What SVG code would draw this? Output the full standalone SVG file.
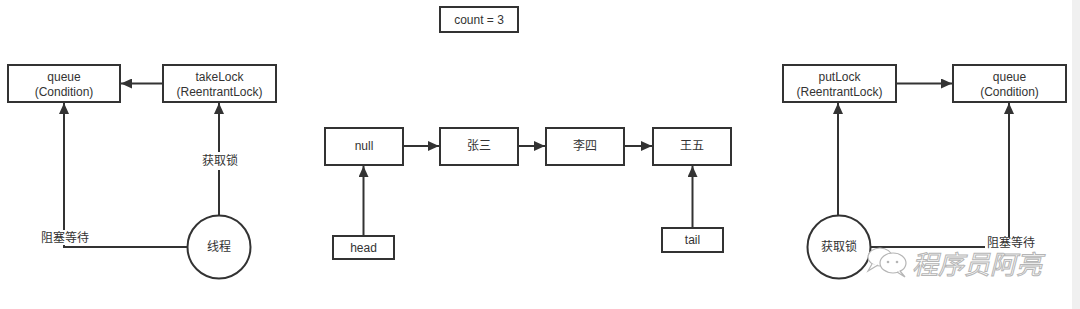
<svg xmlns="http://www.w3.org/2000/svg" width="1080" height="309" viewBox="0 0 1080 309">
<defs>
<style>
.box{fill:#fff;stroke:#333;stroke-width:2}
.t{font-family:"Liberation Sans","Noto Sans CJK SC",sans-serif;font-size:12px;fill:#333;text-anchor:middle;dominant-baseline:central}
.ln{fill:none;stroke:#333;stroke-width:2}
.bg{fill:#fff}
.wm{font-family:"Noto Sans CJK SC",sans-serif;font-size:26px;fill:#fff;stroke:#b5b5b5;stroke-width:1;font-style:italic}
</style>
<marker id="ah" markerUnits="userSpaceOnUse" markerWidth="12" markerHeight="10" refX="11" refY="5" orient="auto">
<path d="M0,0 L11,5 L0,10 z" fill="#333"/>
</marker>
</defs>
<rect width="1080" height="309" fill="#fff"/>
<rect x="1072" y="0" width="8" height="309" fill="#f0f0f0"/>

<g id="connectors">
<line class="ln" x1="163" y1="83.5" x2="121" y2="83.5" marker-end="url(#ah)"/>
<line class="ln" x1="219" y1="215" x2="219" y2="103" marker-end="url(#ah)"/>
<polyline class="ln" points="187,247 64,247 64,103" marker-end="url(#ah)"/>
<line class="ln" x1="403" y1="146" x2="439" y2="146" marker-end="url(#ah)"/>
<line class="ln" x1="518" y1="146" x2="545" y2="146" marker-end="url(#ah)"/>
<line class="ln" x1="624" y1="146" x2="652" y2="146" marker-end="url(#ah)"/>
<line class="ln" x1="363.5" y1="236" x2="363.5" y2="166" marker-end="url(#ah)"/>
<line class="ln" x1="692.5" y1="228" x2="692.5" y2="166" marker-end="url(#ah)"/>
<line class="ln" x1="896" y1="83.5" x2="952" y2="83.5" marker-end="url(#ah)"/>
<line class="ln" x1="838" y1="215" x2="838" y2="103" marker-end="url(#ah)"/>
<polyline class="ln" points="871,247 1009,247 1009,103" marker-end="url(#ah)"/>
<rect class="bg" x="196" y="152" width="48" height="18"/>
<text class="t" x="220" y="161">获取锁</text>
<rect class="bg" x="40" y="230" width="50" height="15"/>
<text class="t" x="65" y="238">阻塞等待</text>
<rect class="bg" x="985" y="237" width="52" height="12"/>
<text class="t" x="1011" y="243">阻塞等待</text>
</g>

<g id="count"><rect class="box" x="440" y="7" width="78" height="25"/><text class="t" x="479" y="20">count = 3</text></g>

<g id="queueLeft"><rect class="box" x="8" y="65" width="112" height="37"/><text class="t" x="64" y="77">queue</text><text class="t" x="64" y="92">(Condition)</text></g>
<g id="takeLock"><rect class="box" x="163" y="65" width="113" height="37"/><text class="t" x="219.5" y="77">takeLock</text><text class="t" x="219.5" y="92">(ReentrantLock)</text></g>
<g id="takeThread"><circle class="box" cx="219" cy="247" r="31.5"/><text class="t" x="219" y="247">线程</text></g>

<g id="nullNode"><rect class="box" x="325" y="128" width="78" height="37"/><text class="t" x="364" y="146">null</text></g>
<g id="zhangsan"><rect class="box" x="440" y="128" width="78" height="37"/><text class="t" x="479" y="146">张三</text></g>
<g id="lisi"><rect class="box" x="546" y="128" width="78" height="37"/><text class="t" x="585" y="146">李四</text></g>
<g id="wangwu"><rect class="box" x="653" y="128" width="78" height="37"/><text class="t" x="692" y="146">王五</text></g>
<g id="head"><rect class="box" x="333" y="236" width="61" height="23"/><text class="t" x="363.5" y="247.5">head</text></g>
<g id="tail"><rect class="box" x="662" y="228" width="61" height="24"/><text class="t" x="692.5" y="240">tail</text></g>

<g id="putLock"><rect class="box" x="783" y="65" width="113" height="37"/><text class="t" x="839.5" y="77">putLock</text><text class="t" x="839.5" y="92">(ReentrantLock)</text></g>
<g id="queueRight"><rect class="box" x="953" y="65" width="113" height="37"/><text class="t" x="1009.5" y="77">queue</text><text class="t" x="1009.5" y="92">(Condition)</text></g>
<g id="putThread"><circle class="box" cx="839" cy="247" r="31.5"/><text class="t" x="839" y="247">获取锁</text></g>

<g id="watermark">
<ellipse cx="880" cy="257" rx="12" ry="9" fill="#fff" stroke="#b5b5b5" stroke-width="1.2"/>
<path d="M872,264 L868,271 L878,265" fill="#fff" stroke="#b5b5b5" stroke-width="1.2"/>
<ellipse cx="893" cy="263" rx="13" ry="10" fill="#fff" stroke="#b5b5b5" stroke-width="1.2"/>
<path d="M900,271 L905,277 L897,272" fill="#fff" stroke="#b5b5b5" stroke-width="1.2"/>
<circle cx="888" cy="262" r="1.3" fill="#b5b5b5"/>
<circle cx="897" cy="262" r="1.3" fill="#b5b5b5"/>
<text class="wm" x="912" y="274">程序员阿亮</text>
</g>
</svg>
